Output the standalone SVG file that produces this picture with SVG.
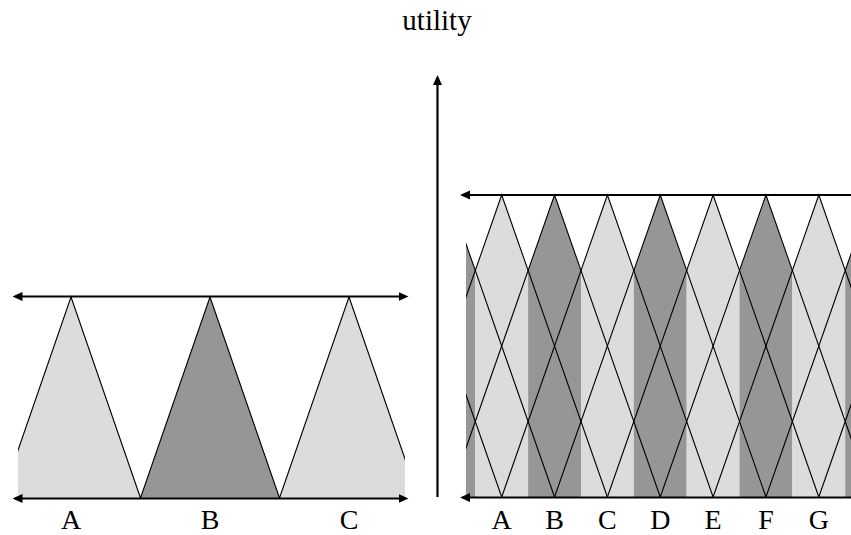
<svg xmlns="http://www.w3.org/2000/svg" width="851" height="535" viewBox="0 0 851 535">
<style>
.lt{fill:#dcdcdc}
.dk{fill:#969696}
.edge{fill:none;stroke:#000;stroke-width:1.1}
.ax{fill:none;stroke:#000;stroke-width:2.2}
.lbl{font-family:"Liberation Serif","Times New Roman",serif;font-size:28px;fill:#000;text-anchor:middle}
.ttl{font-family:"Liberation Serif","Times New Roman",serif;font-size:29px;fill:#000;text-anchor:middle}
</style>
<defs>
<marker id="ah" viewBox="0 -5 10 10" refX="7" refY="0" markerWidth="10" markerHeight="10" markerUnits="userSpaceOnUse" orient="auto-start-reverse">
<path d="M0,-4.5 L10,0 L0,4.5 z" fill="#000"/>
</marker>
<clipPath id="cl"><rect x="18" y="0" width="387" height="535"/></clipPath>
<clipPath id="cr"><rect x="466" y="0" width="385" height="535"/></clipPath>
</defs>
<rect width="851" height="535" fill="#fff"/>

<g id="left-panel">
<g clip-path="url(#cl)">
<polygon id="tri-A" class="lt" points="1.5,498 71,297 140.5,498"/>
<polygon id="tri-B" class="dk" points="140.5,498 210,297 279.5,498"/>
<polygon id="tri-C" class="lt" points="279.5,498 349,297 418.5,498"/>
<polyline class="edge" points="1.5,498 71,297 140.5,498 210,297 279.5,498 349,297 418.5,498"/>
</g>
<text class="lbl" x="71" y="529">A</text>
<text class="lbl" x="210" y="529">B</text>
<text class="lbl" x="349" y="529">C</text>
</g>

<g id="right-panel">
<g clip-path="url(#cr)">
<polygon class="dk" points="422.4,270.5 448.85,195 475.3,270.5 475.3,497 422.4,497"/>
<polygon class="lt" points="475.3,270.5 501.7,195 528.1,270.5 528.1,497 475.3,497"/>
<polygon class="dk" points="528.1,270.5 554.55,195 581,270.5 581,497 528.1,497"/>
<polygon class="lt" points="581,270.5 607.4,195 633.8,270.5 633.8,497 581,497"/>
<polygon class="dk" points="633.8,270.5 660.25,195 686.7,270.5 686.7,497 633.8,497"/>
<polygon class="lt" points="686.7,270.5 713.1,195 739.5,270.5 739.5,497 686.7,497"/>
<polygon class="dk" points="739.5,270.5 765.95,195 792.4,270.5 792.4,497 739.5,497"/>
<polygon class="lt" points="792.4,270.5 818.8,195 845.2,270.5 845.2,497 792.4,497"/>
<polygon class="dk" points="845.2,270.5 871.65,195 898.1,270.5 898.1,497 845.2,497"/>
<polyline class="edge" points="290.3,497 396,195 501.7,497"/>
<polyline class="edge" points="343.15,497 448.85,195 554.55,497"/>
<polyline class="edge" points="396,497 501.7,195 607.4,497"/>
<polyline class="edge" points="448.85,497 554.55,195 660.25,497"/>
<polyline class="edge" points="501.7,497 607.4,195 713.1,497"/>
<polyline class="edge" points="554.55,497 660.25,195 765.95,497"/>
<polyline class="edge" points="607.4,497 713.1,195 818.8,497"/>
<polyline class="edge" points="660.25,497 765.95,195 871.65,497"/>
<polyline class="edge" points="713.1,497 818.8,195 924.5,497"/>
<polyline class="edge" points="765.95,497 871.65,195 977.35,497"/>
<polyline class="edge" points="818.8,497 924.5,195 1030.2,497"/>
</g>
<text class="lbl" x="501.7" y="529">A</text>
<text class="lbl" x="554.55" y="529">B</text>
<text class="lbl" x="607.4" y="529">C</text>
<text class="lbl" x="660.25" y="529">D</text>
<text class="lbl" x="713.1" y="529">E</text>
<text class="lbl" x="765.95" y="529">F</text>
<text class="lbl" x="818.8" y="529">G</text>
</g>

<g id="utility-label">
<text class="ttl" x="437" y="30">utility</text>
</g>

<g id="connectors">
<line class="ax" x1="15.5" y1="296.5" x2="405.5" y2="296.5" marker-start="url(#ah)" marker-end="url(#ah)"/>
<line class="ax" x1="15.5" y1="498.5" x2="405.5" y2="498.5" marker-start="url(#ah)" marker-end="url(#ah)"/>
<line class="ax" x1="437.5" y1="497" x2="437.5" y2="78" marker-end="url(#ah)"/>
<line class="ax" x1="463" y1="195" x2="851" y2="195" marker-start="url(#ah)"/>
<line class="ax" x1="463" y1="497.5" x2="851" y2="497.5" marker-start="url(#ah)"/>
</g>
</svg>
